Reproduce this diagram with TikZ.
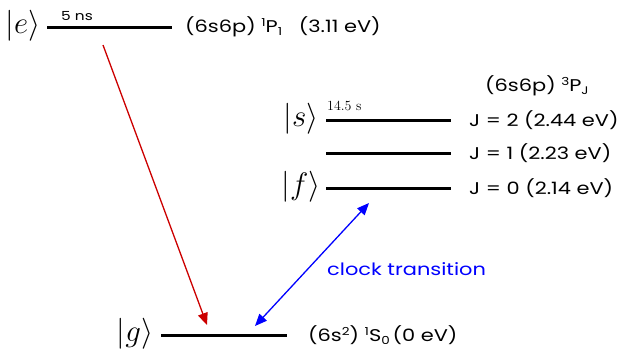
\RequirePackage{fix-cm}
\documentclass[tikz,border=0pt]{standalone}
\usepackage{fontspec}
\setmainfont{Poppins}[FakeStretch=1.23]
\usetikzlibrary{arrows.meta}
\newcommand\upidx[1]{\raisebox{0.62ex}{\fontsize{11}{11}\selectfont #1}}
\newcommand\dnidx[1]{\raisebox{-0.35ex}{\fontsize{11}{11}\selectfont #1}}
\tikzset{mytip/.tip={Triangle[length=12pt,width=10pt]}}
\begin{document}
\begin{tikzpicture}[x=1pt,y=-1pt,
  level/.style={line width=3pt},
  lbl/.style={font=\fontsize{17}{19}\selectfont, anchor=west, inner sep=0pt},
  small/.style={font=\fontsize{12.5}{13}\selectfont, anchor=base west, inner sep=0pt},
  ket/.style={font=\fontsize{31}{33}\selectfont, inner sep=0pt},
  arr/.style={line width=1.3pt}]
\useasboundingbox (0,0) rectangle (621,354);
% levels
\coordinate (e1) at (47,27);  \coordinate (e2) at (172,27);
\coordinate (s1) at (326,120); \coordinate (s2) at (451,120);
\coordinate (m1) at (326,153); \coordinate (m2) at (451,153);
\coordinate (f1) at (326,188); \coordinate (f2) at (451,188);
\coordinate (g1) at (161,335); \coordinate (g2) at (287,335);
\draw[level] (e1) -- (e2);
\draw[level] (s1) -- (s2);
\draw[level] (m1) -- (m2);
\draw[level] (f1) -- (f2);
\draw[level] (g1) -- (g2);
% kets
\node[ket] (ke) at (23,26) {$|e\rangle$};
\node[ket] (ks) at (301,119) {$|s\rangle$};
\node[ket] (kf) at (301,187) {$|f\rangle$};
\node[ket] (kg) at (135,334) {$|g\rangle$};
% lifetimes
\node[small] (t1) at (61,20) {5 ns};
\node[small, font=\fontsize{14}{15}\selectfont\fontspec{Latin Modern Roman}] (t2) at (327,110) {14.5 s};
% labels
\node[lbl] (le) at (185,27) {(6s6p) \upidx{1}P\dnidx{1}\ \ \ (3.11 eV)};
\node[lbl] (lp) at (485,86) {(6s6p) \upidx{3}P\dnidx{J}};
\node[lbl] (l2) at (469,120) {J = 2 (2.44 eV)};
\node[lbl] (l1) at (469,153) {J = 1 (2.23 eV)};
\node[lbl] (l0) at (469,188) {J = 0 (2.14 eV)};
\node[lbl] (lg) at (308,335) {(6s\upidx{2}) \upidx{1}S\dnidx{0}\,(0 eV)};
% arrows
\coordinate (ra) at (103,45); \coordinate (rb) at (207,325);
\draw[arr, -mytip, color={rgb,255:red,204;green,0;blue,0}] (ra) -- (rb);
\coordinate (ba) at (369,203); \coordinate (bb) at (255,326);
\draw[arr, mytip-mytip, color=blue] (ba) -- (bb);
\node[lbl, text=blue] (ct) at (327,269) {clock transition};
\end{tikzpicture}
\end{document}
